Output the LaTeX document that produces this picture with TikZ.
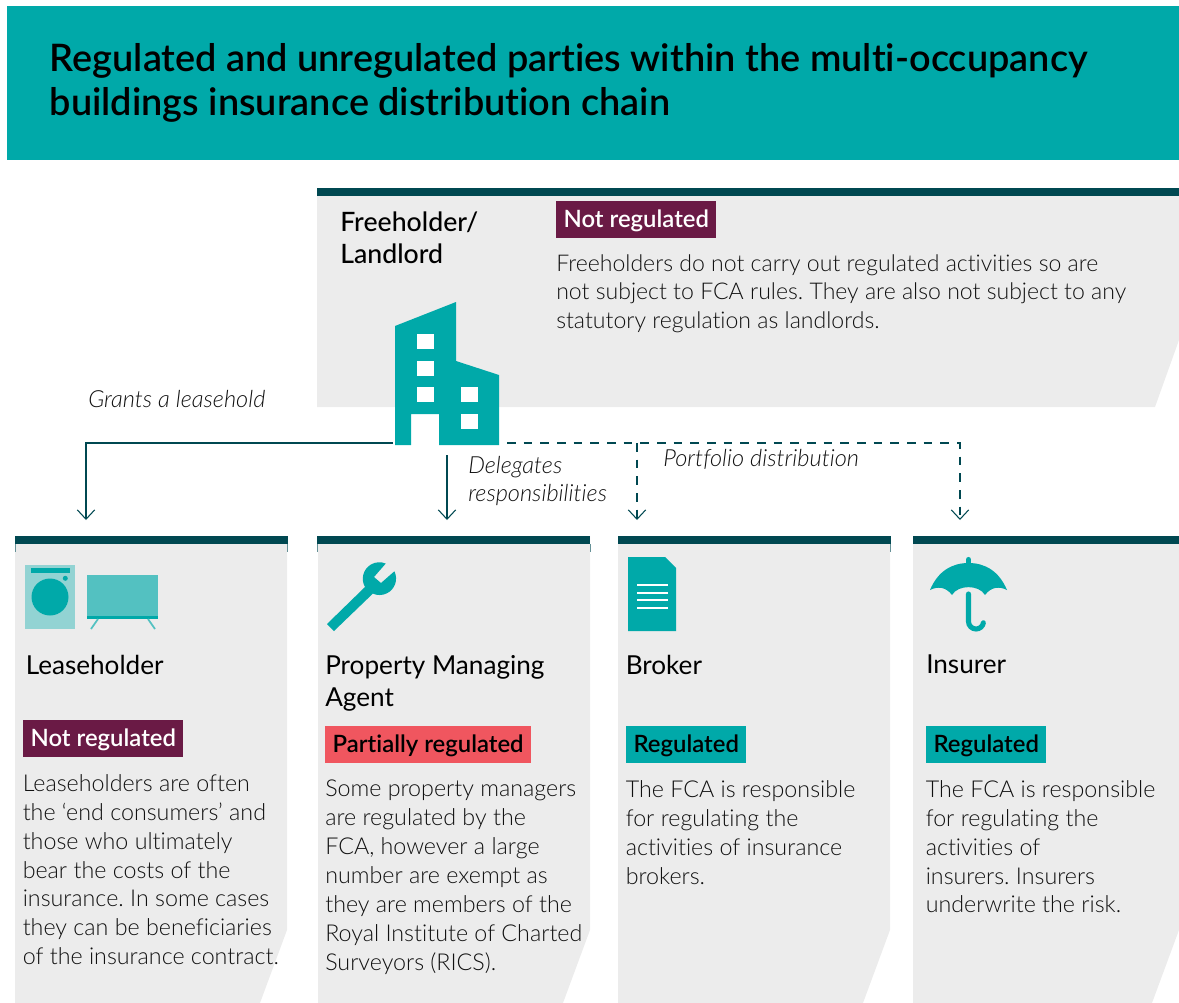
\documentclass[tikz,border=0pt]{standalone}
\usepackage{fontspec}
\setmainfont{Lato}[Ligatures=NoCommon]
\newfontfamily\lightfont{Lato Light}[Ligatures=NoCommon]
\newfontfamily\medfont{Lato Medium}[Ligatures=NoCommon]
\newfontfamily\semifont{Lato Semibold}[Ligatures=NoCommon]
\usetikzlibrary{arrows.meta,calc}
\definecolor{teal}{HTML}{00A9A9}
\definecolor{darkteal}{HTML}{004851}
\definecolor{panel}{HTML}{ECECEC}
\definecolor{plum}{HTML}{6A1A45}
\definecolor{coral}{HTML}{F0565F}
\definecolor{ink}{HTML}{111111}
\tikzset{
  body/.style={anchor=north west,inner sep=0pt,align=left,text=ink,font=\frenchspacing\lightfont\fontsize{17.3}{21.7}\selectfont},
  cardbody/.style={body,font=\frenchspacing\lightfont\fontsize{17.45}{21.7}\selectfont},
  heading/.style={anchor=north west,inner sep=0pt,align=left,text=black,font=\fontsize{19.6}{24}\selectfont},
  strong/.style={heading,font=\medfont\fontsize{20}{23.3}\selectfont},
  badge/.style={anchor=north west,inner sep=0pt,minimum height=27.75pt,text height=14pt,text depth=3pt,inner xsep=5.5pt,font=\semifont\fontsize{17.9}{20}\selectfont},
  leadlabel/.style={anchor=north west,inner sep=0pt,align=left,text=ink,font=\lightfont\itshape\fontsize{17.7}{21}\selectfont},
  link/.style={draw=darkteal,line width=0.8pt,-{Straight Barb[length=7pt,width=13pt,line width=0.8pt]}},
  dashlink/.style={link,dash pattern=on 6.5pt off 6pt},
  bar/.style={fill=darkteal},
  tick/.style={draw=darkteal!60,line width=0.5pt},
}
\begin{document}
\begin{tikzpicture}[x=0.75pt,y=-0.75pt]
\useasboundingbox (0,0) rectangle (1179,1003);
% header
\fill[teal] (7,6) rectangle (1179,160);
\node[anchor=north west,inner sep=0pt,align=left,text=black,font=\frenchspacing\semifont\fontsize{28.4}{33.5}\selectfont] (title) at (49.5,43) {Regulated and unregulated parties within the multi-occupancy\\buildings insurance distribution chain};
% panels
\fill[panel] (317,188) -- (1179,188) -- (1179,340) -- (1155,407) -- (317,407) -- cycle;
\fill[bar] (317,188) rectangle (1179,196);
\fill[panel] (15,536) -- (287,536) -- (287,930) -- (260,1003) -- (15,1003) -- cycle;
\fill[bar] (15,536) rectangle (288,544);
\fill[panel] (318,536) -- (590,536) -- (590,930) -- (563,1003) -- (318,1003) -- cycle;
\fill[bar] (317,536) rectangle (590,544);
\fill[panel] (618,536) -- (890,536) -- (890,930) -- (863,1003) -- (618,1003) -- cycle;
\fill[bar] (618,536) rectangle (891,544);
\fill[panel] (913,536) -- (1179,536) -- (1179,930) -- (1152,1003) -- (913,1003) -- cycle;
\fill[bar] (913,536) rectangle (1179,544);
\draw[tick] (15.3,544) -- (15.3,552);
\draw[tick] (287.7,544) -- (287.7,552);
\draw[tick] (317.5,544) -- (317.5,552);
\draw[tick] (590,544) -- (590,552);
\draw[tick] (890.7,544) -- (890.7,552);
% building
\fill[teal] (395,326) -- (456,302) -- (456,361) -- (499,375) -- (499,445) -- (439,445) -- (439,414) -- (411,414) -- (411,445) -- (395,445) -- cycle;
\fill[white] (417,334) rectangle (434,349);
\fill[white] (417,361) rectangle (434,376);
\fill[white] (417,387) rectangle (434,402);
\fill[white] (461,387) rectangle (478,402);
\fill[white] (461,414) rectangle (478,429);
\coordinate (bwest) at (393,443);
\coordinate (beast) at (507,443);
\coordinate (bdown) at (447,455);
\coordinate (tolease) at (86,520);
\coordinate (toagent) at (447,520);
\coordinate (tobroker) at (637,520);
\coordinate (toinsurer) at (960,520);
% connectors
\draw[link] (bwest) -| (tolease);
\draw[link] (bdown) -- (toagent);
\draw[dashlink] (beast) -| (toinsurer);
\draw[dashlink] (tobroker |- beast) -- (tobroker);
% connector labels
\node[leadlabel] (grants) at (88,390.5) {Grants a leasehold};
\node[leadlabel] (delegates) at (468,456.5) {Delegates\\responsibilities};
\node[leadlabel] (portfolio) at (663,449.5) {Portfolio distribution};
% freeholder
\node[strong] (free) at (340,212) {Freeholder/\\Landlord};
\node[badge,fill=plum,text=white] (b0) at (556,201) {Not regulated};
\node[body] (t0) at (556,254) {Freeholders do not carry out regulated activities so are\\not subject to FCA rules. They are also not subject to any\\statutory regulation as landlords.};
% washer + tv
\fill[teal!38!panel] (25,565) rectangle (75,629);
\fill[teal] (31,568) rectangle (70,573);
\fill[teal] (50,597) circle (18.5);
\fill[teal] (65.3,578.3) circle (2.5);
\fill[teal!65!panel] (87,575) rectangle (158,616);
\fill[teal] (87,616) rectangle (158,619);
\draw[teal!65!panel,line width=1.3pt] (98,619) -- (91,629) (148,619) -- (155,629);
% wrench
\fill[teal] (327,624) -- (365,587) arc[start angle=150,end angle=293,radius=16.5] -- (374,577) -- (381,583) -- (394.4,571.3) arc[start angle=334,end angle=474,radius=16.5] -- (334,631) -- cycle;
% document
\fill[teal] (628,557) -- (665,557) -- (676,568) -- (676,631) -- (628,631) -- cycle;
\draw[white,line width=1.4pt] (637,585) -- (668,585) (637,593) -- (668,593) (637,600) -- (668,600) (637,608) -- (668,608);
% umbrella
\fill[teal] (930,590) .. controls (938,571) and (952,563) .. (968.5,563) .. controls (985,563) and (999,571) .. (1007,590) .. controls (999,586) and (991,587) .. (985,595) .. controls (979,584.5) and (958,584.5) .. (952,595) .. controls (946,587) and (938,586) .. (930,590) -- cycle;
\draw[teal,line width=3.8pt,line cap=round] (968.5,559.5) -- (968.5,564);
\draw[teal,line width=3.8pt,line cap=round] (968.5,594) -- (968.5,621.5) arc[start angle=180,end angle=10,radius=7.5];
% leaseholder
\node[heading] (h1) at (25.5,655) {Leaseholder};
\node[badge,fill=plum,text=white] (b1) at (23,720) {Not regulated};
\node[cardbody] (t1) at (22.5,774) {Leaseholders are often\\the ‘end consumers’ and\\those who ultimately\\bear the costs of the\\insurance. In some cases\\they can be  beneficiaries\\of the insurance contract.};
% agent
\node[heading] (h2) at (325,655) {Property Managing\\Agent};
\node[badge,fill=coral,text=black] (b2) at (325,726) {Partially regulated};
\node[cardbody] (t2) at (325,780) {Some property managers\\are regulated by the\\FCA, however a large\\number are exempt as\\they are members of the\\Royal Institute of Charted\\Surveyors (RICS).};
% broker
\node[heading] (h3) at (625.5,655) {Broker};
\node[badge,fill=teal,text=black] (b3) at (626,726) {Regulated};
\node[cardbody] (t3) at (625.5,780) {The FCA is responsible\\for regulating the\\activities of insurance\\brokers.};
% insurer
\node[heading] (h4) at (926,655) {Insurer};
\node[badge,fill=teal,text=black] (b4) at (926,726) {Regulated};
\node[cardbody] (t4) at (925.5,780) {The FCA is responsible\\for regulating the\\activities of\\insurers. Insurers\\underwrite the risk.};
\end{tikzpicture}
\end{document}
